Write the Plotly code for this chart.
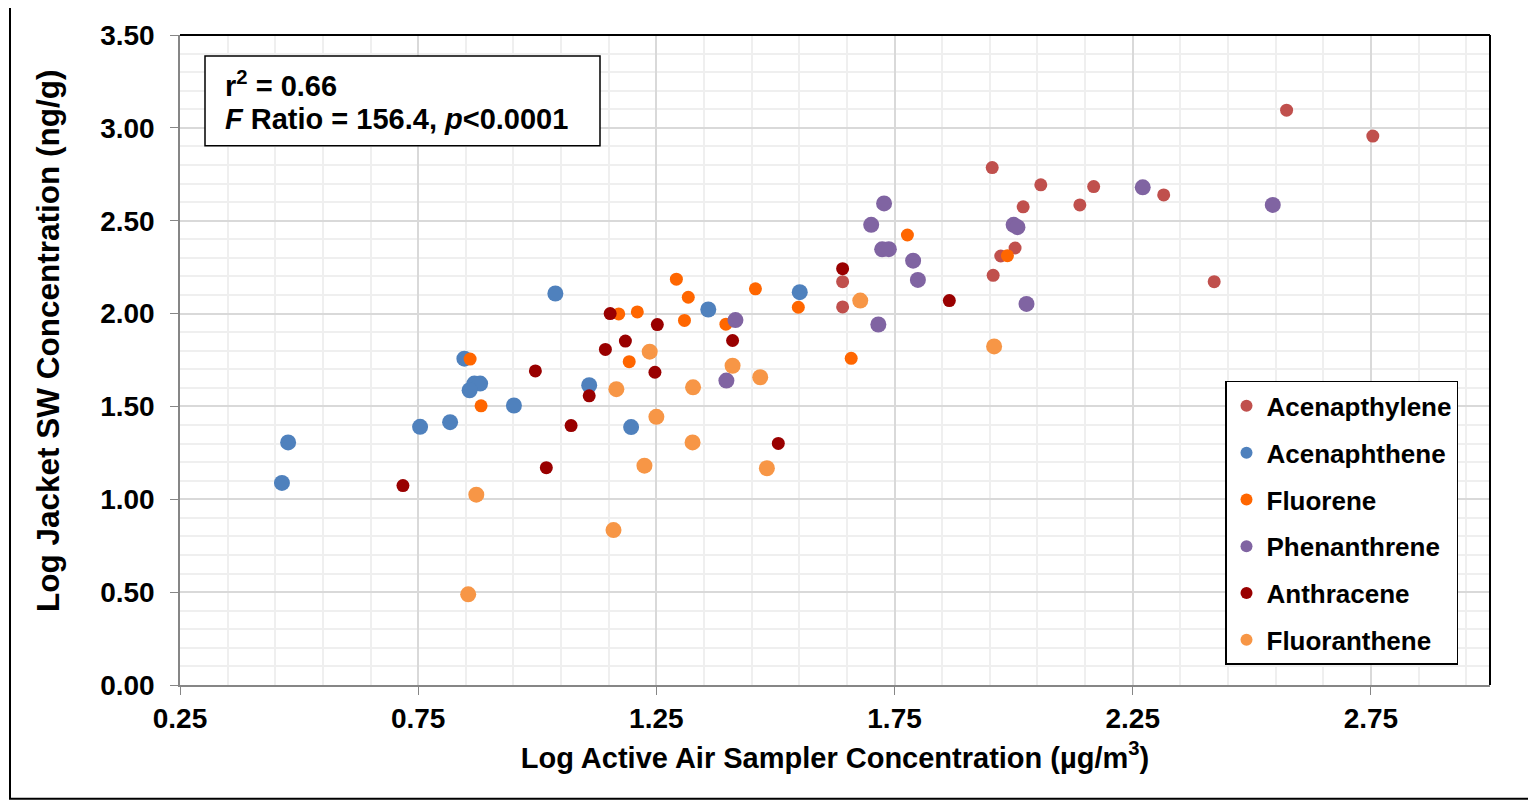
import plotly.graph_objects as go

# ---- data ----
series_names = ["Acenapthylene", "Acenaphthene", "Fluorene", "Phenanthrene", "Anthracene", "Fluoranthene"]
series_colors = ["#C0504D", "#4F81BD", "#FF6600", "#8064A2", "#990000", "#F79646"]
series_sizes = [13, 16, 13, 16, 13, 16]

acenapthylene_x = [1.955, 2.057, 2.020, 2.003, 1.973, 1.957, 1.641, 1.641, 2.168, 2.139, 2.315, 2.421, 2.573, 2.754]
acenapthylene_y = [2.786, 2.693, 2.575, 2.353, 2.310, 2.206, 2.172, 2.036, 2.684, 2.585, 2.639, 2.172, 3.095, 2.956]

acenaphthene_x = [1.038, 0.847, 0.868, 0.880, 0.858, 1.109, 0.951, 0.754, 0.817, 0.477, 0.464, 1.359, 1.551, 1.197]
acenaphthene_y = [2.108, 1.757, 1.623, 1.623, 1.587, 1.614, 1.505, 1.390, 1.415, 1.306, 1.088, 2.022, 2.115, 1.389]

fluorene_x = [1.171, 0.859, 0.882, 1.292, 1.317, 1.210, 1.309, 1.396, 1.193, 1.458, 1.548, 1.659, 1.777, 1.987]
fluorene_y = [1.998, 1.755, 1.503, 2.185, 2.088, 2.009, 1.963, 1.943, 1.741, 2.133, 2.034, 1.759, 2.423, 2.312]

phenanthrene_x = [1.728, 1.701, 2.000, 2.008, 1.724, 1.738, 1.789, 1.799, 1.716, 2.027, 2.271, 2.544, 1.416, 1.397]
phenanthrene_y = [2.593, 2.478, 2.478, 2.465, 2.346, 2.347, 2.285, 2.181, 1.941, 2.052, 2.680, 2.585, 1.965, 1.639]

anthracene_x = [1.153, 1.185, 1.143, 0.996, 1.109, 1.071, 1.019, 0.718, 1.252, 1.247, 1.410, 1.506, 1.641, 1.865]
anthracene_y = [2.000, 1.852, 1.807, 1.691, 1.557, 1.397, 1.170, 1.074, 1.941, 1.684, 1.855, 1.301, 2.242, 2.070]

fluoranthene_x = [1.166, 0.872, 1.160, 0.855, 1.236, 1.410, 1.327, 1.468, 1.250, 1.326, 1.225, 1.482, 1.678, 1.959]
fluoranthene_y = [1.593, 1.025, 0.834, 0.488, 1.795, 1.719, 1.603, 1.657, 1.444, 1.306, 1.181, 1.167, 2.070, 1.823]

series_x = [acenapthylene_x, acenaphthene_x, fluorene_x, phenanthrene_x, anthracene_x, fluoranthene_x]
series_y = [acenapthylene_y, acenaphthene_y, fluorene_y, phenanthrene_y, anthracene_y, fluoranthene_y]

x_title = "Log Active Air Sampler Concentration (µg/m<sup>3</sup>)"
y_title = "Log Jacket SW Concentration (ng/g)"
stats_line1 = "<b>r<sup>2</sup> = 0.66</b>"
stats_line2 = "<b><i>F</i> Ratio = 156.4, <i>p</i>&lt;0.0001</b>"

FONT = "Liberation Sans, Arial, sans-serif"

fig = go.Figure()
for name, col, sz, xs, ys in zip(series_names, series_colors, series_sizes, series_x, series_y):
    fig.add_trace(go.Scatter(
        x=xs, y=ys, mode="markers", name=name, legendgroup=name,
        marker=dict(color=col, size=sz, line=dict(width=0)),
    ))

axis_common = dict(
    showline=True, linecolor="#868686", linewidth=1.5,
    ticks="outside", ticklen=8, tickcolor="#868686", tickwidth=1,
    showgrid=True, gridcolor="#d9d9d9", gridwidth=1.5,
    zeroline=False, tickformat=".2f",
    tickfont=dict(family=FONT, size=28, color="black", weight="bold"),
)

fig.update_xaxes(
    range=[0.25, 3.0], tick0=0.25, dtick=0.5,
    minor=dict(tick0=0.25, dtick=0.1, showgrid=True, gridcolor="#efefef", gridwidth=1.5),
    title=dict(text=x_title, font=dict(family=FONT, size=29, color="black", weight="bold"), standoff=14),
    **axis_common,
)
fig.update_yaxes(
    range=[0, 3.5], tick0=0, dtick=0.5,
    minor=dict(tick0=0, dtick=0.1, showgrid=True, gridcolor="#efefef", gridwidth=1.5),
    ticklabelstandoff=10,
    **axis_common,
)

# the page body adds an 8 px offset; compensate so the plot lands where the reference has it
OFF = 8
W, H = 1536 - OFF, 801 - OFF
L, R, T, B = 180 - OFF, 46, 33 - OFF, 116
pw, ph = W - L - R, H - T - B

def px_x(p):
    return (p - OFF - L) / pw

def px_y(p):
    return (H - B - (p - OFF)) / ph

shapes = [
    # top and right plot border (black)
    dict(type="line", xref="paper", yref="paper", x0=0, x1=1, y0=1, y1=1, line=dict(color="black", width=2)),
    dict(type="line", xref="paper", yref="paper", x0=1, x1=1, y0=0, y1=1, line=dict(color="black", width=2)),
    # statistics box
    dict(type="rect", xref="paper", yref="paper", x0=px_x(205), x1=px_x(600), y0=px_y(144), y1=px_y(54),
         line=dict(color="black", width=1.5), fillcolor="white", layer="above"),
    # outer chart frame
    dict(type="rect", xref="paper", yref="paper", x0=px_x(10), x1=px_x(1534), y0=px_y(799), y1=px_y(3),
         line=dict(color="black", width=2), fillcolor="rgba(0,0,0,0)"),
]

annotations = [
    dict(text=stats_line1, xref="paper", yref="paper", x=px_x(223), y=px_y(82), xanchor="left", yanchor="middle",
         showarrow=False, font=dict(family=FONT, size=29, color="black")),
    dict(text=stats_line2, xref="paper", yref="paper", x=px_x(223), y=px_y(117), xanchor="left", yanchor="middle",
         showarrow=False, font=dict(family=FONT, size=29, color="black")),
    dict(text="<b>" + y_title + "</b>", xref="paper", yref="paper", x=px_x(48), y=px_y(340), textangle=-90,
         xanchor="center", yanchor="middle", showarrow=False, font=dict(family=FONT, size=31.5, color="black")),
]

fig.update_layout(
    width=W, height=H, autosize=False,
    margin=dict(l=L, r=R, t=T, b=B),
    paper_bgcolor="white", plot_bgcolor="white",
    showlegend=True,
    legend=dict(
        x=px_x(1225), y=px_y(380), xanchor="left", yanchor="top",
        bgcolor="white", bordercolor="black", borderwidth=1.5,
        font=dict(family=FONT, size=26, color="black", weight="bold"),
        tracegroupgap=10, itemsizing="constant", traceorder="grouped",
    ),
    shapes=shapes, annotations=annotations,
)

fig.write_html("out.html")
